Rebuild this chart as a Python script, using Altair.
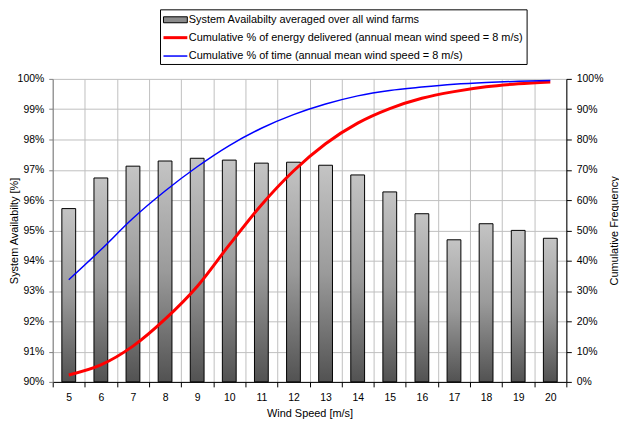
import altair as alt
import pandas as pd

speeds = [5, 6, 7, 8, 9, 10, 11, 12, 13, 14, 15, 16, 17, 18, 19, 20]
availability = [95.72, 96.73, 97.12, 97.29, 97.38, 97.32, 97.22, 97.25,
                97.15, 96.83, 96.27, 95.55, 94.69, 95.22, 95.00, 94.74]
energy_cum = [2.3, 5.6, 11.8, 20.7, 31.5, 45.2, 58.4, 69.6,
              78.6, 85.4, 90.2, 93.6, 95.8, 97.4, 98.4, 99.0]
time_cum = [33.7, 43.6, 54.0, 63.0, 71.0, 78.0, 83.7, 88.2,
            91.7, 94.4, 96.2, 97.3, 98.2, 98.8, 99.2, 99.5]

series_names = [
    "System Availabilty averaged over all wind farms",
    "Cumulative % of energy delivered (annual mean wind speed = 8 m/s)",
    "Cumulative % of time (annual mean wind speed = 8 m/s)",
]

FONT = "Liberation Sans"

bars_df = pd.DataFrame({"speed": speeds, "avail": availability})
energy_df = pd.DataFrame({"speed": speeds, "value": energy_cum})
time_df = pd.DataFrame({"speed": speeds, "value": time_cum})
legend_df = pd.DataFrame({"series": series_names})

x_enc = alt.X(
    "speed:O",
    sort=speeds,
    scale=alt.Scale(paddingInner=0, paddingOuter=0),
    axis=alt.Axis(
        title="Wind Speed [m/s]",
        labelAngle=0,
        tickBand="extent",
        grid=True,
        gridColor="#c0c0c0",
        domainColor="#000000",
        tickColor="#000000",
        tickSize=5,
        labelPadding=6,
        titlePadding=4,
    ),
)

gradient = alt.Gradient(
    gradient="linear",
    stops=[
        alt.GradientStop(color="#c4c4c4", offset=0),
        alt.GradientStop(color="#9a9a9a", offset=0.5),
        alt.GradientStop(color="#525252", offset=1),
    ],
    x1=0, x2=0, y1=0, y2=1,
)

bars = alt.Chart(bars_df).mark_bar(
    color=gradient, stroke="black", strokeWidth=1,
    width=alt.RelativeBandSize(0.43),
).encode(
    x=x_enc,
    y=alt.Y(
        "avail:Q",
        scale=alt.Scale(domain=[90, 100], zero=False, nice=False),
        axis=alt.Axis(
            title="System Availabilty [%]",
            values=list(range(90, 101)),
            labelExpr="datum.value + '%'",
            grid=True,
            gridColor="#c0c0c0",
            domainColor="#808080",
            tickColor="#808080",
            tickSize=4,
            labelPadding=5,
            titlePadding=-2,
        ),
    ),
    y2=alt.datum(90),
)

right_axis = alt.Axis(
    title="Cumulative Frequency",
    orient="right",
    values=list(range(0, 101, 10)),
    labelExpr="datum.value + '%'",
    grid=False,
    domainColor="#000000",
    tickColor="#000000",
    tickSize=5,
    labelPadding=5,
    titlePadding=6,
    titleAngle=270,
    titleBaseline="top",
)
y_right = alt.Y("value:Q", scale=alt.Scale(domain=[0, 100], nice=False), axis=right_axis)

energy_line = alt.Chart(energy_df).mark_line(
    color="#ff0000", strokeWidth=3, interpolate="monotone"
).encode(x=x_enc, y=y_right)

time_line = alt.Chart(time_df).mark_line(
    color="#0000ff", strokeWidth=1.5, interpolate="monotone"
).encode(x=x_enc, y=y_right)

legend_props = alt.Legend(
    title=None,
    orient="none",
    legendX=108,
    legendY=-70,
    direction="vertical",
    padding=3,
    strokeColor="#000000",
    fillColor="#ffffff",
    symbolSize=196,
    symbolOpacity=1,
    symbolOffset=4,
    labelOffset=5,
    rowPadding=4,
    labelFontSize=11,
    labelFont=FONT,
    labelColor="#000000",
    labelLimit=500,
)

rect_path = "M-1.714,-0.43H1.714V0.43H-1.714Z"
line_path = "M-1.714,0H1.714"

legend_layer = alt.Chart(legend_df).mark_point(filled=True, opacity=0).encode(
    fill=alt.Fill("series:N", scale=alt.Scale(domain=series_names,
                  range=["#8c8c8c", "#ff0000", "#0000ff"]), legend=legend_props),
    stroke=alt.Stroke("series:N", scale=alt.Scale(domain=series_names,
                      range=["#000000", "#ff0000", "#0000ff"]), legend=legend_props),
    shape=alt.Shape("series:N", scale=alt.Scale(domain=series_names,
                    range=[rect_path, line_path, line_path]), legend=legend_props),
    strokeWidth=alt.StrokeWidth("series:N", scale=alt.Scale(type="ordinal", domain=series_names,
                                range=[1, 3, 1.5]), legend=legend_props),
)

lines = alt.layer(energy_line, time_line, legend_layer)

chart = alt.layer(bars, lines).resolve_scale(y="independent").properties(
    width=517,
    height=305,
    autosize=alt.AutoSizeParams(type="none"),
    padding={"left": 45, "top": 70, "right": 53, "bottom": 38},
).configure(
    font=FONT,
).configure_view(
    stroke=None,
).configure_axis(
    labelFont=FONT,
    titleFont=FONT,
    labelFontSize=10.5,
    titleFontSize=11,
    titleFontWeight="normal",
    labelColor="#000000",
    titleColor="#000000",
)

chart.save("out.html", embed_options={"renderer": "svg", "actions": False})
